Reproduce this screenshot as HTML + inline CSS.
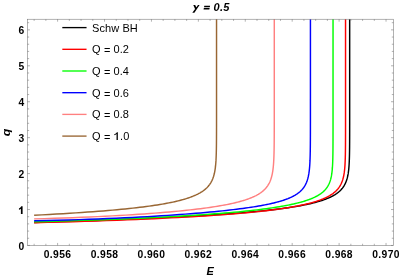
<!DOCTYPE html>
<html><head><meta charset="utf-8"><title>plot</title>
<style>html,body{margin:0;padding:0;background:#fff;}body{width:400px;height:278px;overflow:hidden;position:relative;font-family:"Liberation Sans",sans-serif;}</style>
</head><body>
<svg width="400" height="278" viewBox="0 0 400 278" style="position:absolute;left:0;top:0;will-change:transform">
<g fill="none" stroke-width="1.45" stroke-linejoin="round">
<path d="M34.14 222.44 L47.78 222.03 L60.84 221.63 L73.33 221.23 L85.28 220.82 L96.71 220.42 L107.65 220.02 L118.11 219.62 L128.13 219.22 L137.70 218.82 L146.87 218.42 L155.64 218.02 L164.03 217.63 L172.06 217.23 L179.74 216.83 L187.09 216.43 L194.12 216.04 L200.84 215.64 L207.28 215.24 L213.43 214.84 L219.33 214.45 L224.96 214.05 L230.35 213.65 L235.51 213.26 L240.45 212.86 L245.17 212.46 L249.69 212.07 L254.01 211.67 L258.15 211.27 L262.11 210.87 L265.90 210.47 L269.52 210.08 L272.98 209.68 L276.30 209.28 L279.47 208.88 L282.51 208.48 L285.41 208.08 L288.19 207.68 L290.85 207.28 L293.39 206.89 L295.83 206.49 L298.15 206.09 L300.38 205.68 L302.51 205.28 L304.55 204.88 L306.50 204.48 L308.37 204.08 L310.16 203.68 L311.87 203.28 L313.50 202.88 L315.06 202.47 L316.56 202.07 L317.99 201.67 L319.36 201.27 L320.67 200.86 L321.93 200.46 L323.13 200.06 L324.27 199.65 L325.37 199.25 L326.42 198.85 L327.43 198.44 L328.39 198.04 L329.31 197.63 L330.19 197.23 L331.03 196.82 L331.84 196.42 L332.61 196.01 L333.35 195.61 L334.06 195.20 L334.73 194.80 L335.38 194.39 L335.99 193.98 L336.59 193.58 L337.15 193.17 L337.69 192.77 L338.21 192.36 L338.71 191.95 L339.18 191.55 L339.64 191.14 L340.07 190.73 L340.48 190.32 L340.88 189.92 L341.26 189.51 L341.63 189.10 L341.97 188.69 L342.31 188.29 L342.63 187.88 L342.93 187.47 L343.22 187.06 L343.50 186.65 L343.77 186.25 L344.02 185.84 L344.27 185.43 L344.50 185.02 L344.72 184.61 L344.94 184.20 L345.14 183.79 L345.34 183.39 L345.53 182.98 L345.71 182.57 L345.88 182.16 L346.04 181.75 L346.20 181.34 L346.35 180.93 L346.49 180.52 L346.63 180.11 L346.76 179.70 L346.89 179.29 L347.01 178.89 L347.12 178.48 L347.23 178.07 L347.34 177.66 L347.44 177.25 L347.54 176.84 L347.63 176.43 L347.72 176.02 L347.80 175.61 L347.88 175.20 L347.96 174.79 L348.03 174.38 L348.11 173.97 L348.17 173.56 L348.24 173.15 L348.30 172.74 L348.36 172.33 L348.42 171.92 L348.47 171.51 L348.52 171.10 L348.57 170.69 L348.62 170.28 L348.67 169.87 L348.71 169.46 L348.75 169.05 L348.79 168.64 L348.83 168.23 L348.87 167.82 L348.90 167.41 L348.93 166.99 L348.97 166.58 L349.00 166.17 L349.03 165.76 L349.05 165.35 L349.08 164.94 L349.11 164.53 L349.13 164.12 L349.15 163.71 L349.18 163.30 L349.20 162.89 L349.22 162.48 L349.24 162.07 L349.26 161.66 L349.28 161.25 L349.29 160.84 L349.31 160.43 L349.32 160.02 L349.34 159.61 L349.35 159.19 L349.37 158.78 L349.38 158.37 L349.39 157.96 L349.41 157.55 L349.42 157.14 L349.43 156.73 L349.44 156.32 L349.45 155.91 L349.46 155.50 L349.47 155.09 L349.48 154.68 L349.49 154.27 L349.49 153.86 L349.50 153.44 L349.51 153.03 L349.52 152.62 L349.52 152.21 L349.53 151.80 L349.54 151.39 L349.54 150.98 L349.55 150.57 L349.55 150.16 L349.56 149.75 L349.56 149.34 L349.57 148.93 L349.57 148.52 L349.58 148.10 L349.58 147.69 L349.59 147.28 L349.59 146.87 L349.59 146.46 L349.60 146.05 L349.60 145.64 L349.60 145.23 L349.61 144.82 L349.61 144.41 L349.61 144.00 L349.61 143.59 L349.62 143.17 L349.62 142.76 L349.62 142.35 L349.62 141.94 L349.63 141.53 L349.63 141.12 L349.63 140.71 L349.63 140.30 L349.63 139.89 L349.64 139.48 L349.64 139.07 L349.64 138.66 L349.64 138.24 L349.64 137.83 L349.64 137.42 L349.64 137.01 L349.65 136.60 L349.65 136.19 L349.65 135.78 L349.65 135.37 L349.65 134.96 L349.65 134.55 L349.65 134.14 L349.65 133.72 L349.65 133.31 L349.65 132.90 L349.66 132.49 L349.66 132.08 L349.66 131.67 L349.66 131.26 L349.66 130.85 L349.66 130.44 L349.66 130.03 L349.66 129.62 L349.66 129.21 L349.66 128.79 L349.66 128.38 L349.66 127.97 L349.66 127.56 L349.66 127.15 L349.66 126.74 L349.66 126.33 L349.66 125.92 L349.67 125.51 L349.67 125.10 L349.67 124.69 L349.67 124.27 L349.67 123.86 L349.67 123.45 L349.67 123.04 L349.67 122.63 L349.67 122.22 L349.67 121.81 L349.67 121.40 L349.67 120.99 L349.67 120.58 L349.67 120.17 L349.67 119.75 L349.67 119.34 L349.67 118.93 L349.67 118.52 L349.67 118.11 L349.67 117.70 L349.67 117.29 L349.67 116.88 L349.67 116.47 L349.67 116.06 L349.67 115.65 L349.67 115.24 L349.67 114.82 L349.67 114.41 L349.67 114.00 L349.67 113.59 L349.67 113.18 L349.67 112.77 L349.67 112.36 L349.67 111.95 L349.67 111.54 L349.67 111.13 L349.67 110.72 L349.67 110.30 L349.67 109.89 L349.67 109.48 L349.67 109.07 L349.67 108.66 L349.67 108.25 L349.67 107.84 L349.67 107.43 L349.67 107.02 L349.67 106.61 L349.67 106.20 L349.67 105.78 L349.67 105.37 L349.67 104.96 L349.67 104.55 L349.67 104.14 L349.67 103.73 L349.67 103.32 L349.67 102.91 L349.67 102.50 L349.67 102.09 L349.67 101.68 L349.67 101.26 L349.67 100.85 L349.67 100.44 L349.67 100.03 L349.67 99.62 L349.67 99.21 L349.67 98.80 L349.67 98.39 L349.67 97.98 L349.67 97.57 L349.67 97.16 L349.67 96.74 L349.67 96.33 L349.67 95.92 L349.67 95.51 L349.67 95.10 L349.67 94.69 L349.67 94.28 L349.67 93.87 L349.67 93.46 L349.67 93.05 L349.67 92.64 L349.67 92.23 L349.67 91.81 L349.67 91.40 L349.67 90.99 L349.67 90.58 L349.67 90.17 L349.67 89.76 L349.67 89.35 L349.67 88.94 L349.67 88.53 L349.67 88.12 L349.67 87.71 L349.67 87.29 L349.67 86.88 L349.67 86.47 L349.67 86.06 L349.67 85.65 L349.67 85.24 L349.67 84.83 L349.67 84.42 L349.67 84.01 L349.67 83.60 L349.67 83.19 L349.67 82.77 L349.67 82.36 L349.67 81.95 L349.67 81.54 L349.67 81.13 L349.67 80.72 L349.67 80.31 L349.67 79.90 L349.67 79.49 L349.67 79.08 L349.67 78.67 L349.67 78.25 L349.67 77.84 L349.67 77.43 L349.67 77.02 L349.67 76.61 L349.67 76.20 L349.67 75.79 L349.67 75.38 L349.67 74.97 L349.67 74.56 L349.67 74.15 L349.67 73.73 L349.67 73.32 L349.67 72.91 L349.67 72.50 L349.67 72.09 L349.67 71.68 L349.67 71.27 L349.67 70.86 L349.67 70.45 L349.67 70.04 L349.67 69.63 L349.67 69.22 L349.67 68.80 L349.67 68.39 L349.67 67.98 L349.67 67.57 L349.67 67.16 L349.67 66.75 L349.67 66.34 L349.67 65.93 L349.67 65.52 L349.67 65.11 L349.67 64.70 L349.67 64.28 L349.67 63.87 L349.67 63.46 L349.67 63.05 L349.67 62.64 L349.67 62.23 L349.67 61.82 L349.67 61.41 L349.67 61.00 L349.67 60.59 L349.67 60.18 L349.67 59.76 L349.67 59.35 L349.67 58.94 L349.67 58.53 L349.67 58.12 L349.67 57.71 L349.67 57.30 L349.67 56.89 L349.67 56.48 L349.67 56.07 L349.67 55.66 L349.67 55.24 L349.67 54.83 L349.67 54.42 L349.67 54.01 L349.67 53.60 L349.67 53.19 L349.67 52.78 L349.67 52.37 L349.67 51.96 L349.67 51.55 L349.67 51.14 L349.67 50.72 L349.67 50.31 L349.67 49.90 L349.67 49.49 L349.67 49.08 L349.67 48.67 L349.67 48.26 L349.67 47.85 L349.67 47.44 L349.67 47.03 L349.67 46.62 L349.67 46.20 L349.67 45.79 L349.67 45.38 L349.67 44.97 L349.67 44.56 L349.67 44.15 L349.67 43.74 L349.67 43.33 L349.67 42.92 L349.67 42.51 L349.67 42.10 L349.67 41.69 L349.67 41.27 L349.67 40.86 L349.67 40.45 L349.67 40.04 L349.67 39.63 L349.67 39.22 L349.67 38.81 L349.67 38.40 L349.67 37.99 L349.67 37.58 L349.67 37.17 L349.67 36.75 L349.67 36.34 L349.67 35.93 L349.67 35.52 L349.67 35.11 L349.67 34.70 L349.67 34.29 L349.67 33.88 L349.67 33.47 L349.67 33.06 L349.67 32.65 L349.67 32.23 L349.67 31.82 L349.67 31.41 L349.67 31.00 L349.67 30.59 L349.67 30.18 L349.67 29.77 L349.67 29.36 L349.67 28.95 L349.67 28.54 L349.67 28.13 L349.67 27.71 L349.67 27.30 L349.67 26.89 L349.67 26.48 L349.67 26.07 L349.67 25.66 L349.67 25.25 L349.67 24.84 L349.67 24.43 L349.67 24.02 L349.67 23.61 L349.67 23.19 L349.67 22.78 L349.67 22.37 L349.67 21.96 L349.67 21.55 L349.67 21.14 L349.67 20.73 L349.67 20.32 L349.67 19.91 L349.67 19.50 L349.67 19.20" stroke="#000000"/>
<path d="M34.14 222.72 L47.60 222.37 L60.48 222.02 L72.80 221.66 L84.58 221.29 L95.86 220.93 L106.65 220.56 L116.98 220.19 L126.86 219.81 L136.31 219.43 L145.35 219.05 L154.00 218.67 L162.28 218.28 L170.20 217.90 L177.78 217.51 L185.03 217.11 L191.97 216.72 L198.61 216.33 L204.96 215.93 L211.03 215.53 L216.85 215.13 L222.41 214.73 L227.73 214.33 L232.82 213.92 L237.69 213.52 L242.35 213.11 L246.81 212.71 L251.08 212.30 L255.16 211.89 L259.07 211.48 L262.81 211.08 L266.38 210.67 L269.80 210.26 L273.08 209.84 L276.21 209.43 L279.21 209.02 L282.07 208.61 L284.82 208.20 L287.44 207.79 L289.95 207.37 L292.35 206.96 L294.65 206.55 L296.85 206.13 L298.96 205.72 L300.97 205.31 L302.90 204.89 L304.74 204.48 L306.50 204.07 L308.19 203.65 L309.81 203.24 L311.35 202.83 L312.83 202.41 L314.24 202.00 L315.59 201.59 L316.89 201.17 L318.13 200.76 L319.31 200.35 L320.45 199.94 L321.53 199.52 L322.57 199.11 L323.56 198.70 L324.51 198.29 L325.42 197.87 L326.29 197.46 L327.12 197.05 L327.92 196.64 L328.68 196.23 L329.41 195.82 L330.11 195.40 L330.77 194.99 L331.41 194.58 L332.02 194.17 L332.61 193.76 L333.17 193.35 L333.70 192.94 L334.21 192.53 L334.70 192.12 L335.17 191.71 L335.62 191.30 L336.05 190.89 L336.46 190.48 L336.85 190.07 L337.23 189.66 L337.59 189.26 L337.93 188.85 L338.26 188.44 L338.57 188.03 L338.88 187.62 L339.16 187.21 L339.44 186.81 L339.70 186.40 L339.96 185.99 L340.20 185.58 L340.43 185.17 L340.65 184.77 L340.86 184.36 L341.06 183.95 L341.26 183.54 L341.44 183.14 L341.62 182.73 L341.79 182.32 L341.95 181.92 L342.11 181.51 L342.26 181.10 L342.40 180.70 L342.53 180.29 L342.66 179.89 L342.79 179.48 L342.91 179.07 L343.02 178.67 L343.13 178.26 L343.23 177.86 L343.33 177.45 L343.43 177.04 L343.52 176.64 L343.61 176.23 L343.69 175.83 L343.77 175.42 L343.85 175.02 L343.92 174.61 L343.99 174.21 L344.06 173.80 L344.12 173.40 L344.18 172.99 L344.24 172.58 L344.30 172.18 L344.35 171.77 L344.40 171.37 L344.45 170.97 L344.50 170.56 L344.55 170.16 L344.59 169.75 L344.63 169.35 L344.67 168.94 L344.71 168.54 L344.74 168.13 L344.78 167.73 L344.81 167.32 L344.84 166.92 L344.87 166.51 L344.90 166.11 L344.93 165.71 L344.96 165.30 L344.98 164.90 L345.01 164.49 L345.03 164.09 L345.05 163.68 L345.07 163.28 L345.09 162.88 L345.11 162.47 L345.13 162.07 L345.15 161.66 L345.17 161.26 L345.18 160.86 L345.20 160.45 L345.21 160.05 L345.23 159.64 L345.24 159.24 L345.25 158.83 L345.27 158.43 L345.28 158.03 L345.29 157.62 L345.30 157.22 L345.31 156.82 L345.32 156.41 L345.33 156.01 L345.34 155.60 L345.35 155.20 L345.36 154.80 L345.37 154.39 L345.37 153.99 L345.38 153.58 L345.39 153.18 L345.39 152.78 L345.40 152.37 L345.41 151.97 L345.41 151.57 L345.42 151.16 L345.42 150.76 L345.43 150.35 L345.43 149.95 L345.44 149.55 L345.44 149.14 L345.45 148.74 L345.45 148.34 L345.46 147.93 L345.46 147.53 L345.46 147.12 L345.47 146.72 L345.47 146.32 L345.47 145.91 L345.48 145.51 L345.48 145.11 L345.48 144.70 L345.48 144.30 L345.49 143.90 L345.49 143.49 L345.49 143.09 L345.49 142.68 L345.50 142.28 L345.50 141.88 L345.50 141.47 L345.50 141.07 L345.50 140.67 L345.51 140.26 L345.51 139.86 L345.51 139.46 L345.51 139.05 L345.51 138.65 L345.51 138.24 L345.51 137.84 L345.52 137.44 L345.52 137.03 L345.52 136.63 L345.52 136.23 L345.52 135.82 L345.52 135.42 L345.52 135.02 L345.52 134.61 L345.52 134.21 L345.53 133.80 L345.53 133.40 L345.53 133.00 L345.53 132.59 L345.53 132.19 L345.53 131.79 L345.53 131.38 L345.53 130.98 L345.53 130.58 L345.53 130.17 L345.53 129.77 L345.53 129.37 L345.53 128.96 L345.53 128.56 L345.53 128.15 L345.53 127.75 L345.53 127.35 L345.54 126.94 L345.54 126.54 L345.54 126.14 L345.54 125.73 L345.54 125.33 L345.54 124.93 L345.54 124.52 L345.54 124.12 L345.54 123.72 L345.54 123.31 L345.54 122.91 L345.54 122.51 L345.54 122.10 L345.54 121.70 L345.54 121.29 L345.54 120.89 L345.54 120.49 L345.54 120.08 L345.54 119.68 L345.54 119.28 L345.54 118.87 L345.54 118.47 L345.54 118.07 L345.54 117.66 L345.54 117.26 L345.54 116.86 L345.54 116.45 L345.54 116.05 L345.54 115.64 L345.54 115.24 L345.54 114.84 L345.54 114.43 L345.54 114.03 L345.54 113.63 L345.54 113.22 L345.54 112.82 L345.54 112.42 L345.54 112.01 L345.54 111.61 L345.54 111.21 L345.54 110.80 L345.54 110.40 L345.54 110.00 L345.54 109.59 L345.54 109.19 L345.54 108.78 L345.54 108.38 L345.54 107.98 L345.54 107.57 L345.54 107.17 L345.54 106.77 L345.54 106.36 L345.54 105.96 L345.54 105.56 L345.54 105.15 L345.54 104.75 L345.54 104.35 L345.54 103.94 L345.54 103.54 L345.54 103.14 L345.54 102.73 L345.54 102.33 L345.54 101.92 L345.54 101.52 L345.54 101.12 L345.54 100.71 L345.54 100.31 L345.54 99.91 L345.54 99.50 L345.54 99.10 L345.54 98.70 L345.54 98.29 L345.54 97.89 L345.54 97.49 L345.54 97.08 L345.54 96.68 L345.54 96.28 L345.54 95.87 L345.54 95.47 L345.54 95.06 L345.54 94.66 L345.54 94.26 L345.54 93.85 L345.54 93.45 L345.54 93.05 L345.54 92.64 L345.54 92.24 L345.54 91.84 L345.54 91.43 L345.54 91.03 L345.54 90.63 L345.54 90.22 L345.54 89.82 L345.54 89.41 L345.54 89.01 L345.54 88.61 L345.54 88.20 L345.54 87.80 L345.54 87.40 L345.54 86.99 L345.54 86.59 L345.54 86.19 L345.54 85.78 L345.54 85.38 L345.54 84.98 L345.54 84.57 L345.54 84.17 L345.54 83.77 L345.54 83.36 L345.54 82.96 L345.54 82.55 L345.54 82.15 L345.54 81.75 L345.54 81.34 L345.54 80.94 L345.54 80.54 L345.54 80.13 L345.54 79.73 L345.54 79.33 L345.54 78.92 L345.54 78.52 L345.54 78.12 L345.54 77.71 L345.54 77.31 L345.54 76.91 L345.54 76.50 L345.54 76.10 L345.54 75.69 L345.54 75.29 L345.54 74.89 L345.54 74.48 L345.54 74.08 L345.54 73.68 L345.54 73.27 L345.54 72.87 L345.54 72.47 L345.54 72.06 L345.54 71.66 L345.54 71.26 L345.54 70.85 L345.54 70.45 L345.54 70.05 L345.54 69.64 L345.54 69.24 L345.54 68.83 L345.54 68.43 L345.54 68.03 L345.54 67.62 L345.54 67.22 L345.54 66.82 L345.54 66.41 L345.54 66.01 L345.54 65.61 L345.54 65.20 L345.54 64.80 L345.54 64.40 L345.54 63.99 L345.54 63.59 L345.54 63.19 L345.54 62.78 L345.54 62.38 L345.54 61.97 L345.54 61.57 L345.54 61.17 L345.54 60.76 L345.54 60.36 L345.54 59.96 L345.54 59.55 L345.54 59.15 L345.54 58.75 L345.54 58.34 L345.54 57.94 L345.54 57.54 L345.54 57.13 L345.54 56.73 L345.54 56.33 L345.54 55.92 L345.54 55.52 L345.54 55.11 L345.54 54.71 L345.54 54.31 L345.54 53.90 L345.54 53.50 L345.54 53.10 L345.54 52.69 L345.54 52.29 L345.54 51.89 L345.54 51.48 L345.54 51.08 L345.54 50.68 L345.54 50.27 L345.54 49.87 L345.54 49.46 L345.54 49.06 L345.54 48.66 L345.54 48.25 L345.54 47.85 L345.54 47.45 L345.54 47.04 L345.54 46.64 L345.54 46.24 L345.54 45.83 L345.54 45.43 L345.54 45.03 L345.54 44.62 L345.54 44.22 L345.54 43.82 L345.54 43.41 L345.54 43.01 L345.54 42.60 L345.54 42.20 L345.54 41.80 L345.54 41.39 L345.54 40.99 L345.54 40.59 L345.54 40.18 L345.54 39.78 L345.54 39.38 L345.54 38.97 L345.54 38.57 L345.54 38.17 L345.54 37.76 L345.54 37.36 L345.54 36.96 L345.54 36.55 L345.54 36.15 L345.54 35.74 L345.54 35.34 L345.54 34.94 L345.54 34.53 L345.54 34.13 L345.54 33.73 L345.54 33.32 L345.54 32.92 L345.54 32.52 L345.54 32.11 L345.54 31.71 L345.54 31.31 L345.54 30.90 L345.54 30.50 L345.54 30.10 L345.54 29.69 L345.54 29.29 L345.54 28.88 L345.54 28.48 L345.54 28.08 L345.54 27.67 L345.54 27.27 L345.54 26.87 L345.54 26.46 L345.54 26.06 L345.54 25.66 L345.54 25.25 L345.54 24.85 L345.54 24.45 L345.54 24.04 L345.54 23.64 L345.54 23.24 L345.54 22.83 L345.54 22.43 L345.54 22.02 L345.54 21.62 L345.54 21.22 L345.54 20.81 L345.54 20.41 L345.54 20.01 L345.54 19.60 L345.54 19.20" stroke="#ff0000"/>
<path d="M34.14 221.76 L47.04 221.43 L59.38 221.10 L71.19 220.75 L82.49 220.40 L93.30 220.04 L103.65 219.67 L113.55 219.30 L123.02 218.93 L132.08 218.55 L140.75 218.17 L149.05 217.78 L156.99 217.39 L164.59 217.00 L171.86 216.61 L178.81 216.22 L185.47 215.82 L191.83 215.43 L197.93 215.03 L203.76 214.63 L209.34 214.24 L214.67 213.84 L219.78 213.44 L224.67 213.04 L229.35 212.64 L233.82 212.24 L238.10 211.85 L242.20 211.45 L246.12 211.05 L249.87 210.65 L253.46 210.25 L256.89 209.85 L260.18 209.46 L263.32 209.06 L266.33 208.66 L269.21 208.27 L271.96 207.87 L274.60 207.48 L277.12 207.08 L279.53 206.69 L281.84 206.29 L284.05 205.90 L286.17 205.50 L288.19 205.11 L290.12 204.72 L291.98 204.32 L293.75 203.93 L295.44 203.54 L297.06 203.15 L298.62 202.76 L300.10 202.36 L301.52 201.97 L302.88 201.58 L304.18 201.19 L305.43 200.80 L306.62 200.41 L307.76 200.02 L308.85 199.63 L309.89 199.24 L310.89 198.85 L311.85 198.46 L312.76 198.08 L313.64 197.69 L314.48 197.30 L315.28 196.91 L316.04 196.52 L316.78 196.13 L317.48 195.75 L318.15 195.36 L318.79 194.97 L319.41 194.58 L319.99 194.20 L320.56 193.81 L321.10 193.42 L321.61 193.03 L322.10 192.65 L322.58 192.26 L323.03 191.87 L323.46 191.49 L323.87 191.10 L324.27 190.71 L324.65 190.33 L325.01 189.94 L325.35 189.55 L325.69 189.17 L326.00 188.78 L326.31 188.39 L326.60 188.01 L326.87 187.62 L327.14 187.23 L327.39 186.85 L327.64 186.46 L327.87 186.07 L328.09 185.69 L328.31 185.30 L328.51 184.92 L328.71 184.53 L328.89 184.14 L329.07 183.76 L329.24 183.37 L329.41 182.98 L329.56 182.60 L329.71 182.21 L329.86 181.83 L329.99 181.44 L330.12 181.05 L330.25 180.67 L330.37 180.28 L330.49 179.90 L330.60 179.51 L330.70 179.12 L330.80 178.74 L330.90 178.35 L330.99 177.96 L331.08 177.58 L331.16 177.19 L331.24 176.81 L331.32 176.42 L331.39 176.03 L331.47 175.65 L331.53 175.26 L331.60 174.87 L331.66 174.49 L331.72 174.10 L331.78 173.72 L331.83 173.33 L331.88 172.94 L331.93 172.56 L331.98 172.17 L332.03 171.78 L332.07 171.40 L332.11 171.01 L332.15 170.63 L332.19 170.24 L332.23 169.85 L332.26 169.47 L332.29 169.08 L332.33 168.69 L332.36 168.31 L332.39 167.92 L332.41 167.54 L332.44 167.15 L332.47 166.76 L332.49 166.38 L332.51 165.99 L332.54 165.60 L332.56 165.22 L332.58 164.83 L332.60 164.45 L332.62 164.06 L332.64 163.67 L332.65 163.29 L332.67 162.90 L332.68 162.51 L332.70 162.13 L332.71 161.74 L332.73 161.36 L332.74 160.97 L332.75 160.58 L332.77 160.20 L332.78 159.81 L332.79 159.42 L332.80 159.04 L332.81 158.65 L332.82 158.26 L332.83 157.88 L332.84 157.49 L332.85 157.11 L332.85 156.72 L332.86 156.33 L332.87 155.95 L332.88 155.56 L332.88 155.17 L332.89 154.79 L332.90 154.40 L332.90 154.01 L332.91 153.63 L332.91 153.24 L332.92 152.85 L332.92 152.47 L332.93 152.08 L332.93 151.70 L332.94 151.31 L332.94 150.92 L332.95 150.54 L332.95 150.15 L332.95 149.76 L332.96 149.38 L332.96 148.99 L332.96 148.60 L332.97 148.22 L332.97 147.83 L332.97 147.45 L332.98 147.06 L332.98 146.67 L332.98 146.29 L332.98 145.90 L332.98 145.51 L332.99 145.13 L332.99 144.74 L332.99 144.35 L332.99 143.97 L332.99 143.58 L333.00 143.19 L333.00 142.81 L333.00 142.42 L333.00 142.04 L333.00 141.65 L333.00 141.26 L333.01 140.88 L333.01 140.49 L333.01 140.10 L333.01 139.72 L333.01 139.33 L333.01 138.94 L333.01 138.56 L333.01 138.17 L333.01 137.78 L333.02 137.40 L333.02 137.01 L333.02 136.62 L333.02 136.24 L333.02 135.85 L333.02 135.47 L333.02 135.08 L333.02 134.69 L333.02 134.31 L333.02 133.92 L333.02 133.53 L333.02 133.15 L333.02 132.76 L333.02 132.37 L333.02 131.99 L333.02 131.60 L333.03 131.21 L333.03 130.83 L333.03 130.44 L333.03 130.06 L333.03 129.67 L333.03 129.28 L333.03 128.90 L333.03 128.51 L333.03 128.12 L333.03 127.74 L333.03 127.35 L333.03 126.96 L333.03 126.58 L333.03 126.19 L333.03 125.80 L333.03 125.42 L333.03 125.03 L333.03 124.65 L333.03 124.26 L333.03 123.87 L333.03 123.49 L333.03 123.10 L333.03 122.71 L333.03 122.33 L333.03 121.94 L333.03 121.55 L333.03 121.17 L333.03 120.78 L333.03 120.39 L333.03 120.01 L333.03 119.62 L333.03 119.23 L333.03 118.85 L333.03 118.46 L333.03 118.08 L333.03 117.69 L333.03 117.30 L333.03 116.92 L333.03 116.53 L333.03 116.14 L333.03 115.76 L333.03 115.37 L333.03 114.98 L333.03 114.60 L333.03 114.21 L333.03 113.82 L333.03 113.44 L333.03 113.05 L333.03 112.66 L333.03 112.28 L333.03 111.89 L333.03 111.51 L333.03 111.12 L333.03 110.73 L333.03 110.35 L333.03 109.96 L333.03 109.57 L333.03 109.19 L333.03 108.80 L333.03 108.41 L333.03 108.03 L333.03 107.64 L333.03 107.25 L333.03 106.87 L333.03 106.48 L333.03 106.10 L333.03 105.71 L333.03 105.32 L333.03 104.94 L333.03 104.55 L333.03 104.16 L333.03 103.78 L333.03 103.39 L333.03 103.00 L333.03 102.62 L333.03 102.23 L333.03 101.84 L333.03 101.46 L333.03 101.07 L333.03 100.68 L333.03 100.30 L333.03 99.91 L333.03 99.53 L333.03 99.14 L333.03 98.75 L333.03 98.37 L333.03 97.98 L333.03 97.59 L333.03 97.21 L333.03 96.82 L333.03 96.43 L333.03 96.05 L333.03 95.66 L333.03 95.27 L333.03 94.89 L333.03 94.50 L333.03 94.12 L333.03 93.73 L333.03 93.34 L333.03 92.96 L333.03 92.57 L333.03 92.18 L333.03 91.80 L333.03 91.41 L333.03 91.02 L333.03 90.64 L333.03 90.25 L333.03 89.86 L333.03 89.48 L333.03 89.09 L333.03 88.70 L333.03 88.32 L333.03 87.93 L333.03 87.55 L333.03 87.16 L333.03 86.77 L333.03 86.39 L333.03 86.00 L333.03 85.61 L333.03 85.23 L333.03 84.84 L333.03 84.45 L333.03 84.07 L333.03 83.68 L333.03 83.29 L333.03 82.91 L333.03 82.52 L333.03 82.13 L333.03 81.75 L333.03 81.36 L333.03 80.98 L333.03 80.59 L333.03 80.20 L333.03 79.82 L333.03 79.43 L333.03 79.04 L333.03 78.66 L333.03 78.27 L333.03 77.88 L333.03 77.50 L333.03 77.11 L333.03 76.72 L333.03 76.34 L333.03 75.95 L333.03 75.57 L333.03 75.18 L333.03 74.79 L333.03 74.41 L333.03 74.02 L333.03 73.63 L333.03 73.25 L333.03 72.86 L333.03 72.47 L333.03 72.09 L333.03 71.70 L333.03 71.31 L333.03 70.93 L333.03 70.54 L333.03 70.15 L333.03 69.77 L333.03 69.38 L333.03 69.00 L333.03 68.61 L333.03 68.22 L333.03 67.84 L333.03 67.45 L333.03 67.06 L333.03 66.68 L333.03 66.29 L333.03 65.90 L333.03 65.52 L333.03 65.13 L333.03 64.74 L333.03 64.36 L333.03 63.97 L333.03 63.58 L333.03 63.20 L333.03 62.81 L333.03 62.43 L333.03 62.04 L333.03 61.65 L333.03 61.27 L333.03 60.88 L333.03 60.49 L333.03 60.11 L333.04 59.72 L333.04 59.33 L333.04 58.95 L333.04 58.56 L333.04 58.17 L333.04 57.79 L333.04 57.40 L333.04 57.02 L333.04 56.63 L333.04 56.24 L333.04 55.86 L333.04 55.47 L333.04 55.08 L333.04 54.70 L333.04 54.31 L333.04 53.92 L333.04 53.54 L333.04 53.15 L333.04 52.76 L333.04 52.38 L333.04 51.99 L333.04 51.60 L333.04 51.22 L333.04 50.83 L333.04 50.45 L333.04 50.06 L333.04 49.67 L333.04 49.29 L333.04 48.90 L333.04 48.51 L333.04 48.13 L333.04 47.74 L333.04 47.35 L333.04 46.97 L333.04 46.58 L333.04 46.19 L333.04 45.81 L333.04 45.42 L333.04 45.03 L333.04 44.65 L333.04 44.26 L333.04 43.88 L333.04 43.49 L333.04 43.10 L333.04 42.72 L333.04 42.33 L333.04 41.94 L333.04 41.56 L333.04 41.17 L333.04 40.78 L333.04 40.40 L333.04 40.01 L333.04 39.62 L333.04 39.24 L333.04 38.85 L333.04 38.47 L333.04 38.08 L333.04 37.69 L333.04 37.31 L333.04 36.92 L333.04 36.53 L333.04 36.15 L333.04 35.76 L333.04 35.37 L333.04 34.99 L333.04 34.60 L333.04 34.21 L333.04 33.83 L333.04 33.44 L333.04 33.05 L333.04 32.67 L333.04 32.28 L333.04 31.90 L333.04 31.51 L333.04 31.12 L333.04 30.74 L333.04 30.35 L333.04 29.96 L333.04 29.58 L333.04 29.19 L333.04 28.80 L333.04 28.42 L333.04 28.03 L333.04 27.64 L333.04 27.26 L333.04 26.87 L333.04 26.49 L333.04 26.10 L333.04 25.71 L333.04 25.33 L333.04 24.94 L333.04 24.55 L333.04 24.17 L333.04 23.78 L333.04 23.39 L333.04 23.01 L333.04 22.62 L333.04 22.23 L333.04 21.85 L333.04 21.46 L333.04 21.07 L333.04 20.69 L333.04 20.30 L333.04 19.92 L333.04 19.53 L333.04 19.20" stroke="#00ff00"/>
<path d="M34.14 220.78 L46.03 220.54 L57.40 220.26 L68.29 219.96 L78.71 219.64 L88.68 219.30 L98.22 218.94 L107.35 218.58 L116.09 218.20 L124.45 217.82 L132.45 217.42 L140.11 217.02 L147.44 216.62 L154.45 216.21 L161.16 215.80 L167.59 215.39 L173.73 214.98 L179.61 214.56 L185.24 214.15 L190.63 213.73 L195.78 213.32 L200.72 212.91 L205.44 212.49 L209.95 212.08 L214.28 211.67 L218.41 211.26 L222.37 210.86 L226.16 210.45 L229.79 210.04 L233.26 209.64 L236.58 209.24 L239.76 208.84 L242.80 208.44 L245.71 208.04 L248.49 207.64 L251.16 207.24 L253.71 206.85 L256.15 206.45 L258.48 206.06 L260.72 205.67 L262.86 205.27 L264.90 204.88 L266.86 204.49 L268.74 204.10 L270.53 203.71 L272.25 203.32 L273.89 202.93 L275.46 202.54 L276.97 202.15 L278.41 201.75 L279.78 201.36 L281.10 200.97 L282.36 200.58 L283.57 200.19 L284.73 199.80 L285.83 199.41 L286.89 199.01 L287.90 198.62 L288.87 198.22 L289.80 197.83 L290.69 197.44 L291.54 197.04 L292.35 196.64 L293.13 196.25 L293.87 195.85 L294.58 195.45 L295.27 195.05 L295.92 194.65 L296.54 194.25 L297.14 193.85 L297.71 193.45 L298.26 193.04 L298.78 192.64 L299.28 192.23 L299.76 191.83 L300.22 191.42 L300.66 191.01 L301.08 190.61 L301.48 190.20 L301.87 189.79 L302.24 189.38 L302.59 188.97 L302.93 188.56 L303.25 188.14 L303.56 187.73 L303.85 187.32 L304.14 186.90 L304.41 186.49 L304.67 186.07 L304.91 185.65 L305.15 185.23 L305.38 184.82 L305.59 184.40 L305.80 183.98 L306.00 183.56 L306.19 183.14 L306.37 182.71 L306.55 182.29 L306.71 181.87 L306.87 181.45 L307.03 181.02 L307.17 180.60 L307.31 180.17 L307.45 179.75 L307.58 179.32 L307.70 178.89 L307.82 178.47 L307.93 178.04 L308.04 177.61 L308.14 177.18 L308.24 176.75 L308.33 176.32 L308.42 175.89 L308.51 175.46 L308.59 175.03 L308.67 174.60 L308.74 174.17 L308.82 173.74 L308.89 173.31 L308.95 172.87 L309.02 172.44 L309.08 172.01 L309.13 171.57 L309.19 171.14 L309.24 170.71 L309.29 170.27 L309.34 169.84 L309.39 169.40 L309.43 168.96 L309.48 168.53 L309.52 168.09 L309.56 167.66 L309.59 167.22 L309.63 166.78 L309.66 166.35 L309.70 165.91 L309.73 165.47 L309.76 165.03 L309.79 164.60 L309.81 164.16 L309.84 163.72 L309.87 163.28 L309.89 162.84 L309.91 162.40 L309.94 161.97 L309.96 161.53 L309.98 161.09 L310.00 160.65 L310.01 160.21 L310.03 159.77 L310.05 159.33 L310.07 158.89 L310.08 158.45 L310.10 158.01 L310.11 157.57 L310.12 157.13 L310.14 156.69 L310.15 156.25 L310.16 155.81 L310.17 155.37 L310.18 154.92 L310.19 154.48 L310.20 154.04 L310.21 153.60 L310.22 153.16 L310.23 152.72 L310.24 152.28 L310.25 151.83 L310.26 151.39 L310.26 150.95 L310.27 150.51 L310.28 150.07 L310.28 149.63 L310.29 149.18 L310.29 148.74 L310.30 148.30 L310.31 147.86 L310.31 147.42 L310.32 146.97 L310.32 146.53 L310.33 146.09 L310.33 145.65 L310.33 145.20 L310.34 144.76 L310.34 144.32 L310.35 143.88 L310.35 143.43 L310.35 142.99 L310.36 142.55 L310.36 142.11 L310.36 141.66 L310.36 141.22 L310.37 140.78 L310.37 140.33 L310.37 139.89 L310.37 139.45 L310.38 139.00 L310.38 138.56 L310.38 138.12 L310.38 137.68 L310.38 137.23 L310.39 136.79 L310.39 136.35 L310.39 135.90 L310.39 135.46 L310.39 135.02 L310.39 134.57 L310.40 134.13 L310.40 133.69 L310.40 133.24 L310.40 132.80 L310.40 132.36 L310.40 131.91 L310.40 131.47 L310.40 131.03 L310.40 130.58 L310.41 130.14 L310.41 129.70 L310.41 129.25 L310.41 128.81 L310.41 128.37 L310.41 127.92 L310.41 127.48 L310.41 127.04 L310.41 126.59 L310.41 126.15 L310.41 125.71 L310.41 125.26 L310.41 124.82 L310.41 124.38 L310.41 123.93 L310.42 123.49 L310.42 123.05 L310.42 122.60 L310.42 122.16 L310.42 121.72 L310.42 121.27 L310.42 120.83 L310.42 120.39 L310.42 119.94 L310.42 119.50 L310.42 119.05 L310.42 118.61 L310.42 118.17 L310.42 117.72 L310.42 117.28 L310.42 116.84 L310.42 116.39 L310.42 115.95 L310.42 115.51 L310.42 115.06 L310.42 114.62 L310.42 114.18 L310.42 113.73 L310.42 113.29 L310.42 112.84 L310.42 112.40 L310.42 111.96 L310.42 111.51 L310.42 111.07 L310.42 110.63 L310.42 110.18 L310.42 109.74 L310.42 109.30 L310.42 108.85 L310.42 108.41 L310.42 107.96 L310.42 107.52 L310.42 107.08 L310.42 106.63 L310.42 106.19 L310.42 105.75 L310.42 105.30 L310.42 104.86 L310.42 104.42 L310.42 103.97 L310.42 103.53 L310.42 103.08 L310.42 102.64 L310.42 102.20 L310.42 101.75 L310.42 101.31 L310.42 100.87 L310.42 100.42 L310.42 99.98 L310.42 99.54 L310.42 99.09 L310.43 98.65 L310.43 98.20 L310.43 97.76 L310.43 97.32 L310.43 96.87 L310.43 96.43 L310.43 95.99 L310.43 95.54 L310.43 95.10 L310.43 94.66 L310.43 94.21 L310.43 93.77 L310.43 93.32 L310.43 92.88 L310.43 92.44 L310.43 91.99 L310.43 91.55 L310.43 91.11 L310.43 90.66 L310.43 90.22 L310.43 89.77 L310.43 89.33 L310.43 88.89 L310.43 88.44 L310.43 88.00 L310.43 87.56 L310.43 87.11 L310.43 86.67 L310.43 86.23 L310.43 85.78 L310.43 85.34 L310.43 84.89 L310.43 84.45 L310.43 84.01 L310.43 83.56 L310.43 83.12 L310.43 82.68 L310.43 82.23 L310.43 81.79 L310.43 81.35 L310.43 80.90 L310.43 80.46 L310.43 80.01 L310.43 79.57 L310.43 79.13 L310.43 78.68 L310.43 78.24 L310.43 77.80 L310.43 77.35 L310.43 76.91 L310.43 76.46 L310.43 76.02 L310.43 75.58 L310.43 75.13 L310.43 74.69 L310.43 74.25 L310.43 73.80 L310.43 73.36 L310.43 72.92 L310.43 72.47 L310.43 72.03 L310.43 71.58 L310.43 71.14 L310.43 70.70 L310.43 70.25 L310.43 69.81 L310.43 69.37 L310.43 68.92 L310.43 68.48 L310.43 68.04 L310.43 67.59 L310.43 67.15 L310.43 66.70 L310.43 66.26 L310.43 65.82 L310.43 65.37 L310.43 64.93 L310.43 64.49 L310.43 64.04 L310.43 63.60 L310.43 63.15 L310.43 62.71 L310.43 62.27 L310.43 61.82 L310.43 61.38 L310.43 60.94 L310.43 60.49 L310.43 60.05 L310.43 59.61 L310.43 59.16 L310.43 58.72 L310.43 58.27 L310.43 57.83 L310.43 57.39 L310.43 56.94 L310.43 56.50 L310.43 56.06 L310.43 55.61 L310.43 55.17 L310.43 54.72 L310.43 54.28 L310.43 53.84 L310.43 53.39 L310.43 52.95 L310.43 52.51 L310.43 52.06 L310.43 51.62 L310.43 51.18 L310.43 50.73 L310.43 50.29 L310.43 49.84 L310.43 49.40 L310.43 48.96 L310.43 48.51 L310.43 48.07 L310.43 47.63 L310.43 47.18 L310.43 46.74 L310.43 46.29 L310.43 45.85 L310.43 45.41 L310.43 44.96 L310.43 44.52 L310.43 44.08 L310.43 43.63 L310.43 43.19 L310.43 42.75 L310.43 42.30 L310.43 41.86 L310.43 41.41 L310.43 40.97 L310.43 40.53 L310.43 40.08 L310.43 39.64 L310.43 39.20 L310.43 38.75 L310.43 38.31 L310.43 37.87 L310.43 37.42 L310.43 36.98 L310.43 36.53 L310.43 36.09 L310.43 35.65 L310.43 35.20 L310.43 34.76 L310.43 34.32 L310.43 33.87 L310.43 33.43 L310.43 32.98 L310.43 32.54 L310.43 32.10 L310.43 31.65 L310.43 31.21 L310.43 30.77 L310.43 30.32 L310.43 29.88 L310.43 29.44 L310.43 28.99 L310.43 28.55 L310.43 28.10 L310.43 27.66 L310.43 27.22 L310.43 26.77 L310.43 26.33 L310.43 25.89 L310.43 25.44 L310.43 25.00 L310.43 24.55 L310.43 24.11 L310.43 23.67 L310.43 23.22 L310.43 22.78 L310.43 22.34 L310.43 21.89 L310.43 21.45 L310.43 21.01 L310.43 20.56 L310.43 20.12 L310.43 19.67 L310.43 19.23 L310.43 19.20" stroke="#0000ff"/>
<path d="M34.14 218.88 L44.42 218.60 L54.26 218.30 L63.68 217.99 L72.69 217.66 L81.32 217.32 L89.58 216.97 L97.49 216.61 L105.05 216.25 L112.30 215.87 L119.23 215.49 L125.87 215.11 L132.22 214.72 L138.30 214.33 L144.12 213.93 L149.70 213.54 L155.03 213.14 L160.13 212.74 L165.02 212.33 L169.70 211.93 L174.17 211.52 L178.46 211.12 L182.56 210.71 L186.49 210.31 L190.25 209.90 L193.84 209.49 L197.29 209.08 L200.58 208.68 L203.74 208.27 L206.76 207.86 L209.65 207.45 L212.41 207.04 L215.06 206.64 L217.60 206.23 L220.02 205.82 L222.35 205.41 L224.57 205.01 L226.70 204.60 L228.74 204.19 L230.69 203.78 L232.55 203.37 L234.34 202.96 L236.05 202.55 L237.69 202.14 L239.25 201.73 L240.75 201.32 L242.19 200.91 L243.56 200.50 L244.88 200.09 L246.14 199.68 L247.34 199.27 L248.49 198.86 L249.60 198.44 L250.65 198.03 L251.67 197.61 L252.63 197.20 L253.56 196.78 L254.45 196.37 L255.30 195.95 L256.11 195.54 L256.89 195.12 L257.63 194.70 L258.35 194.28 L259.03 193.86 L259.68 193.44 L260.31 193.02 L260.91 192.60 L261.48 192.18 L262.03 191.76 L262.55 191.33 L263.05 190.91 L263.53 190.49 L264.00 190.06 L264.44 189.64 L264.86 189.21 L265.26 188.78 L265.65 188.36 L266.02 187.93 L266.37 187.50 L266.71 187.07 L267.03 186.64 L267.35 186.21 L267.64 185.78 L267.93 185.35 L268.20 184.92 L268.46 184.49 L268.71 184.05 L268.95 183.62 L269.18 183.19 L269.40 182.75 L269.60 182.32 L269.81 181.88 L270.00 181.45 L270.18 181.01 L270.36 180.58 L270.52 180.14 L270.69 179.70 L270.84 179.27 L270.99 178.83 L271.13 178.39 L271.26 177.95 L271.39 177.51 L271.52 177.07 L271.64 176.63 L271.75 176.19 L271.86 175.75 L271.96 175.31 L272.06 174.87 L272.16 174.43 L272.25 173.99 L272.34 173.54 L272.42 173.10 L272.50 172.66 L272.58 172.22 L272.65 171.77 L272.72 171.33 L272.79 170.88 L272.85 170.44 L272.91 170.00 L272.97 169.55 L273.03 169.11 L273.08 168.66 L273.13 168.22 L273.18 167.77 L273.23 167.33 L273.28 166.88 L273.32 166.43 L273.36 165.99 L273.40 165.54 L273.44 165.10 L273.47 164.65 L273.51 164.20 L273.54 163.76 L273.57 163.31 L273.60 162.86 L273.63 162.41 L273.66 161.97 L273.69 161.52 L273.71 161.07 L273.74 160.62 L273.76 160.18 L273.79 159.73 L273.81 159.28 L273.83 158.83 L273.85 158.38 L273.87 157.93 L273.88 157.49 L273.90 157.04 L273.92 156.59 L273.93 156.14 L273.95 155.69 L273.96 155.24 L273.98 154.79 L273.99 154.34 L274.00 153.89 L274.02 153.44 L274.03 152.99 L274.04 152.54 L274.05 152.09 L274.06 151.65 L274.07 151.20 L274.08 150.75 L274.09 150.30 L274.10 149.85 L274.10 149.40 L274.11 148.95 L274.12 148.50 L274.13 148.05 L274.13 147.60 L274.14 147.15 L274.15 146.70 L274.15 146.24 L274.16 145.79 L274.16 145.34 L274.17 144.89 L274.17 144.44 L274.18 143.99 L274.18 143.54 L274.19 143.09 L274.19 142.64 L274.20 142.19 L274.20 141.74 L274.20 141.29 L274.21 140.84 L274.21 140.39 L274.21 139.94 L274.22 139.49 L274.22 139.04 L274.22 138.58 L274.23 138.13 L274.23 137.68 L274.23 137.23 L274.23 136.78 L274.24 136.33 L274.24 135.88 L274.24 135.43 L274.24 134.98 L274.24 134.53 L274.25 134.08 L274.25 133.62 L274.25 133.17 L274.25 132.72 L274.25 132.27 L274.25 131.82 L274.26 131.37 L274.26 130.92 L274.26 130.47 L274.26 130.02 L274.26 129.56 L274.26 129.11 L274.26 128.66 L274.26 128.21 L274.27 127.76 L274.27 127.31 L274.27 126.86 L274.27 126.41 L274.27 125.96 L274.27 125.50 L274.27 125.05 L274.27 124.60 L274.27 124.15 L274.27 123.70 L274.27 123.25 L274.27 122.80 L274.27 122.35 L274.28 121.89 L274.28 121.44 L274.28 120.99 L274.28 120.54 L274.28 120.09 L274.28 119.64 L274.28 119.19 L274.28 118.73 L274.28 118.28 L274.28 117.83 L274.28 117.38 L274.28 116.93 L274.28 116.48 L274.28 116.03 L274.28 115.58 L274.28 115.12 L274.28 114.67 L274.28 114.22 L274.28 113.77 L274.28 113.32 L274.28 112.87 L274.28 112.42 L274.28 111.96 L274.28 111.51 L274.28 111.06 L274.28 110.61 L274.28 110.16 L274.28 109.71 L274.28 109.26 L274.28 108.80 L274.28 108.35 L274.28 107.90 L274.28 107.45 L274.29 107.00 L274.29 106.55 L274.29 106.10 L274.29 105.65 L274.29 105.19 L274.29 104.74 L274.29 104.29 L274.29 103.84 L274.29 103.39 L274.29 102.94 L274.29 102.49 L274.29 102.03 L274.29 101.58 L274.29 101.13 L274.29 100.68 L274.29 100.23 L274.29 99.78 L274.29 99.33 L274.29 98.87 L274.29 98.42 L274.29 97.97 L274.29 97.52 L274.29 97.07 L274.29 96.62 L274.29 96.17 L274.29 95.71 L274.29 95.26 L274.29 94.81 L274.29 94.36 L274.29 93.91 L274.29 93.46 L274.29 93.01 L274.29 92.55 L274.29 92.10 L274.29 91.65 L274.29 91.20 L274.29 90.75 L274.29 90.30 L274.29 89.85 L274.29 89.39 L274.29 88.94 L274.29 88.49 L274.29 88.04 L274.29 87.59 L274.29 87.14 L274.29 86.69 L274.29 86.23 L274.29 85.78 L274.29 85.33 L274.29 84.88 L274.29 84.43 L274.29 83.98 L274.29 83.53 L274.29 83.07 L274.29 82.62 L274.29 82.17 L274.29 81.72 L274.29 81.27 L274.29 80.82 L274.29 80.37 L274.29 79.91 L274.29 79.46 L274.29 79.01 L274.29 78.56 L274.29 78.11 L274.29 77.66 L274.29 77.21 L274.29 76.75 L274.29 76.30 L274.29 75.85 L274.29 75.40 L274.29 74.95 L274.29 74.50 L274.29 74.05 L274.29 73.59 L274.29 73.14 L274.29 72.69 L274.29 72.24 L274.29 71.79 L274.29 71.34 L274.29 70.89 L274.29 70.43 L274.29 69.98 L274.29 69.53 L274.29 69.08 L274.29 68.63 L274.29 68.18 L274.29 67.73 L274.29 67.27 L274.29 66.82 L274.29 66.37 L274.29 65.92 L274.29 65.47 L274.29 65.02 L274.29 64.57 L274.29 64.11 L274.29 63.66 L274.29 63.21 L274.29 62.76 L274.29 62.31 L274.29 61.86 L274.29 61.41 L274.29 60.95 L274.29 60.50 L274.29 60.05 L274.29 59.60 L274.29 59.15 L274.29 58.70 L274.29 58.25 L274.29 57.79 L274.29 57.34 L274.29 56.89 L274.29 56.44 L274.29 55.99 L274.29 55.54 L274.29 55.09 L274.29 54.63 L274.29 54.18 L274.29 53.73 L274.29 53.28 L274.29 52.83 L274.29 52.38 L274.29 51.93 L274.29 51.47 L274.29 51.02 L274.29 50.57 L274.29 50.12 L274.29 49.67 L274.29 49.22 L274.29 48.77 L274.29 48.31 L274.29 47.86 L274.29 47.41 L274.29 46.96 L274.29 46.51 L274.29 46.06 L274.29 45.61 L274.29 45.15 L274.29 44.70 L274.29 44.25 L274.29 43.80 L274.29 43.35 L274.29 42.90 L274.29 42.45 L274.29 41.99 L274.29 41.54 L274.29 41.09 L274.29 40.64 L274.29 40.19 L274.29 39.74 L274.29 39.29 L274.29 38.83 L274.29 38.38 L274.29 37.93 L274.29 37.48 L274.29 37.03 L274.29 36.58 L274.29 36.13 L274.29 35.67 L274.29 35.22 L274.29 34.77 L274.29 34.32 L274.29 33.87 L274.29 33.42 L274.29 32.97 L274.29 32.51 L274.29 32.06 L274.29 31.61 L274.29 31.16 L274.29 30.71 L274.29 30.26 L274.29 29.81 L274.29 29.35 L274.29 28.90 L274.29 28.45 L274.29 28.00 L274.29 27.55 L274.29 27.10 L274.29 26.65 L274.29 26.19 L274.29 25.74 L274.29 25.29 L274.29 24.84 L274.29 24.39 L274.29 23.94 L274.29 23.49 L274.29 23.03 L274.29 22.58 L274.29 22.13 L274.29 21.68 L274.29 21.23 L274.29 20.78 L274.29 20.33 L274.29 19.87 L274.29 19.42 L274.29 19.20" stroke="#ff8080"/>
<path d="M34.14 215.25 L41.87 214.86 L49.27 214.46 L56.35 214.06 L63.14 213.67 L69.64 213.27 L75.86 212.88 L81.82 212.48 L87.53 212.09 L93.00 211.70 L98.23 211.30 L103.24 210.91 L108.04 210.51 L112.64 210.12 L117.04 209.72 L121.26 209.32 L125.29 208.93 L129.16 208.53 L132.86 208.13 L136.41 207.73 L139.80 207.33 L143.05 206.93 L146.17 206.53 L149.15 206.13 L152.00 205.73 L154.74 205.33 L157.35 204.92 L159.86 204.52 L162.26 204.12 L164.56 203.71 L166.77 203.31 L168.87 202.90 L170.89 202.50 L172.83 202.09 L174.68 201.68 L176.45 201.27 L178.15 200.87 L179.78 200.46 L181.34 200.05 L182.83 199.64 L184.26 199.23 L185.62 198.82 L186.93 198.41 L188.19 198.00 L189.39 197.59 L190.54 197.18 L191.64 196.76 L192.70 196.35 L193.71 195.94 L194.67 195.53 L195.60 195.12 L196.49 194.70 L197.34 194.29 L198.15 193.88 L198.93 193.46 L199.68 193.05 L200.39 192.64 L201.08 192.22 L201.73 191.81 L202.36 191.39 L202.96 190.98 L203.53 190.56 L204.09 190.15 L204.61 189.74 L205.12 189.32 L205.60 188.91 L206.07 188.49 L206.51 188.08 L206.94 187.66 L207.34 187.25 L207.73 186.83 L208.11 186.42 L208.46 186.00 L208.81 185.58 L209.13 185.17 L209.45 184.75 L209.75 184.34 L210.04 183.92 L210.31 183.51 L210.58 183.09 L210.83 182.68 L211.07 182.26 L211.30 181.84 L211.52 181.43 L211.74 181.01 L211.94 180.60 L212.14 180.18 L212.32 179.76 L212.50 179.35 L212.67 178.93 L212.84 178.52 L212.99 178.10 L213.14 177.69 L213.29 177.27 L213.43 176.85 L213.56 176.44 L213.68 176.02 L213.81 175.61 L213.92 175.19 L214.03 174.77 L214.14 174.36 L214.24 173.94 L214.34 173.53 L214.43 173.11 L214.52 172.70 L214.61 172.28 L214.69 171.86 L214.77 171.45 L214.84 171.03 L214.91 170.62 L214.98 170.20 L215.05 169.78 L215.11 169.37 L215.17 168.95 L215.23 168.54 L215.29 168.12 L215.34 167.70 L215.39 167.29 L215.44 166.87 L215.49 166.46 L215.53 166.04 L215.57 165.63 L215.62 165.21 L215.66 164.79 L215.69 164.38 L215.73 163.96 L215.76 163.55 L215.80 163.13 L215.83 162.72 L215.86 162.30 L215.89 161.88 L215.92 161.47 L215.94 161.05 L215.97 160.64 L215.99 160.22 L216.02 159.81 L216.04 159.39 L216.06 158.97 L216.08 158.56 L216.10 158.14 L216.12 157.73 L216.14 157.31 L216.15 156.90 L216.17 156.48 L216.19 156.06 L216.20 155.65 L216.22 155.23 L216.23 154.82 L216.24 154.40 L216.26 153.99 L216.27 153.57 L216.28 153.16 L216.29 152.74 L216.30 152.32 L216.31 151.91 L216.32 151.49 L216.33 151.08 L216.34 150.66 L216.35 150.25 L216.36 149.83 L216.36 149.42 L216.37 149.00 L216.38 148.58 L216.39 148.17 L216.39 147.75 L216.40 147.34 L216.41 146.92 L216.41 146.51 L216.42 146.09 L216.42 145.68 L216.43 145.26 L216.43 144.84 L216.44 144.43 L216.44 144.01 L216.45 143.60 L216.45 143.18 L216.45 142.77 L216.46 142.35 L216.46 141.94 L216.46 141.52 L216.47 141.10 L216.47 140.69 L216.47 140.27 L216.48 139.86 L216.48 139.44 L216.48 139.03 L216.49 138.61 L216.49 138.20 L216.49 137.78 L216.49 137.36 L216.49 136.95 L216.50 136.53 L216.50 136.12 L216.50 135.70 L216.50 135.29 L216.50 134.87 L216.51 134.46 L216.51 134.04 L216.51 133.63 L216.51 133.21 L216.51 132.79 L216.51 132.38 L216.51 131.96 L216.52 131.55 L216.52 131.13 L216.52 130.72 L216.52 130.30 L216.52 129.89 L216.52 129.47 L216.52 129.05 L216.52 128.64 L216.52 128.22 L216.52 127.81 L216.53 127.39 L216.53 126.98 L216.53 126.56 L216.53 126.15 L216.53 125.73 L216.53 125.32 L216.53 124.90 L216.53 124.48 L216.53 124.07 L216.53 123.65 L216.53 123.24 L216.53 122.82 L216.53 122.41 L216.53 121.99 L216.53 121.58 L216.53 121.16 L216.53 120.74 L216.53 120.33 L216.54 119.91 L216.54 119.50 L216.54 119.08 L216.54 118.67 L216.54 118.25 L216.54 117.84 L216.54 117.42 L216.54 117.01 L216.54 116.59 L216.54 116.17 L216.54 115.76 L216.54 115.34 L216.54 114.93 L216.54 114.51 L216.54 114.10 L216.54 113.68 L216.54 113.27 L216.54 112.85 L216.54 112.44 L216.54 112.02 L216.54 111.60 L216.54 111.19 L216.54 110.77 L216.54 110.36 L216.54 109.94 L216.54 109.53 L216.54 109.11 L216.54 108.70 L216.54 108.28 L216.54 107.87 L216.54 107.45 L216.54 107.03 L216.54 106.62 L216.54 106.20 L216.54 105.79 L216.54 105.37 L216.54 104.96 L216.54 104.54 L216.54 104.13 L216.54 103.71 L216.54 103.30 L216.54 102.88 L216.54 102.46 L216.54 102.05 L216.54 101.63 L216.54 101.22 L216.54 100.80 L216.54 100.39 L216.54 99.97 L216.54 99.56 L216.54 99.14 L216.54 98.72 L216.54 98.31 L216.54 97.89 L216.54 97.48 L216.54 97.06 L216.54 96.65 L216.54 96.23 L216.54 95.82 L216.54 95.40 L216.54 94.99 L216.54 94.57 L216.54 94.15 L216.54 93.74 L216.54 93.32 L216.54 92.91 L216.54 92.49 L216.54 92.08 L216.54 91.66 L216.54 91.25 L216.54 90.83 L216.54 90.42 L216.54 90.00 L216.54 89.58 L216.54 89.17 L216.54 88.75 L216.54 88.34 L216.54 87.92 L216.54 87.51 L216.54 87.09 L216.54 86.68 L216.54 86.26 L216.54 85.85 L216.54 85.43 L216.54 85.01 L216.54 84.60 L216.54 84.18 L216.54 83.77 L216.54 83.35 L216.54 82.94 L216.54 82.52 L216.54 82.11 L216.54 81.69 L216.54 81.28 L216.54 80.86 L216.54 80.44 L216.54 80.03 L216.54 79.61 L216.54 79.20 L216.54 78.78 L216.54 78.37 L216.54 77.95 L216.54 77.54 L216.54 77.12 L216.54 76.70 L216.54 76.29 L216.54 75.87 L216.54 75.46 L216.54 75.04 L216.54 74.63 L216.54 74.21 L216.54 73.80 L216.54 73.38 L216.54 72.97 L216.54 72.55 L216.54 72.13 L216.54 71.72 L216.54 71.30 L216.54 70.89 L216.54 70.47 L216.54 70.06 L216.54 69.64 L216.54 69.23 L216.54 68.81 L216.54 68.40 L216.54 67.98 L216.54 67.56 L216.54 67.15 L216.54 66.73 L216.54 66.32 L216.54 65.90 L216.54 65.49 L216.54 65.07 L216.54 64.66 L216.54 64.24 L216.54 63.83 L216.54 63.41 L216.54 62.99 L216.54 62.58 L216.54 62.16 L216.54 61.75 L216.54 61.33 L216.54 60.92 L216.54 60.50 L216.54 60.09 L216.54 59.67 L216.54 59.26 L216.54 58.84 L216.54 58.42 L216.54 58.01 L216.54 57.59 L216.54 57.18 L216.54 56.76 L216.54 56.35 L216.54 55.93 L216.54 55.52 L216.54 55.10 L216.54 54.69 L216.54 54.27 L216.54 53.85 L216.54 53.44 L216.54 53.02 L216.54 52.61 L216.54 52.19 L216.54 51.78 L216.54 51.36 L216.54 50.95 L216.54 50.53 L216.54 50.11 L216.54 49.70 L216.54 49.28 L216.54 48.87 L216.54 48.45 L216.54 48.04 L216.54 47.62 L216.54 47.21 L216.54 46.79 L216.54 46.38 L216.54 45.96 L216.54 45.54 L216.54 45.13 L216.54 44.71 L216.54 44.30 L216.54 43.88 L216.54 43.47 L216.54 43.05 L216.54 42.64 L216.54 42.22 L216.54 41.81 L216.54 41.39 L216.54 40.97 L216.54 40.56 L216.54 40.14 L216.54 39.73 L216.54 39.31 L216.54 38.90 L216.54 38.48 L216.54 38.07 L216.54 37.65 L216.54 37.24 L216.54 36.82 L216.54 36.40 L216.54 35.99 L216.54 35.57 L216.54 35.16 L216.54 34.74 L216.54 34.33 L216.54 33.91 L216.54 33.50 L216.54 33.08 L216.54 32.67 L216.54 32.25 L216.54 31.83 L216.54 31.42 L216.54 31.00 L216.54 30.59 L216.54 30.17 L216.54 29.76 L216.54 29.34 L216.54 28.93 L216.54 28.51 L216.54 28.09 L216.54 27.68 L216.54 27.26 L216.54 26.85 L216.54 26.43 L216.54 26.02 L216.54 25.60 L216.54 25.19 L216.54 24.77 L216.54 24.36 L216.54 23.94 L216.54 23.52 L216.54 23.11 L216.54 22.69 L216.54 22.28 L216.54 21.86 L216.54 21.45 L216.54 21.03 L216.54 20.62 L216.54 20.20 L216.54 19.79 L216.54 19.37 L216.54 19.20" stroke="#996633"/>
</g>
<g stroke="#666666" stroke-width="0.5" fill="none">
<rect x="27.45" y="19.2" width="366.05" height="226.25"/>
<path stroke-width="0.5" d="M34.14 245.45v-1.7M34.14 19.2v1.7M45.87 245.45v-1.7M45.87 19.2v1.7M57.60 245.45v-2.5M57.60 19.2v2.5M69.33 245.45v-1.7M69.33 19.2v1.7M81.06 245.45v-1.7M81.06 19.2v1.7M92.79 245.45v-1.7M92.79 19.2v1.7M104.52 245.45v-2.5M104.52 19.2v2.5M116.25 245.45v-1.7M116.25 19.2v1.7M127.98 245.45v-1.7M127.98 19.2v1.7M139.71 245.45v-1.7M139.71 19.2v1.7M151.44 245.45v-2.5M151.44 19.2v2.5M163.17 245.45v-1.7M163.17 19.2v1.7M174.90 245.45v-1.7M174.90 19.2v1.7M186.63 245.45v-1.7M186.63 19.2v1.7M198.36 245.45v-2.5M198.36 19.2v2.5M210.09 245.45v-1.7M210.09 19.2v1.7M221.82 245.45v-1.7M221.82 19.2v1.7M233.55 245.45v-1.7M233.55 19.2v1.7M245.28 245.45v-2.5M245.28 19.2v2.5M257.01 245.45v-1.7M257.01 19.2v1.7M268.74 245.45v-1.7M268.74 19.2v1.7M280.47 245.45v-1.7M280.47 19.2v1.7M292.20 245.45v-2.5M292.20 19.2v2.5M303.93 245.45v-1.7M303.93 19.2v1.7M315.66 245.45v-1.7M315.66 19.2v1.7M327.39 245.45v-1.7M327.39 19.2v1.7M339.12 245.45v-2.5M339.12 19.2v2.5M350.85 245.45v-1.7M350.85 19.2v1.7M362.58 245.45v-1.7M362.58 19.2v1.7M374.31 245.45v-1.7M374.31 19.2v1.7M386.04 245.45v-2.5M386.04 19.2v2.5M27.45 245.45h2.5M393.5 245.45h-2.5M27.45 238.26h1.7M393.5 238.26h-1.7M27.45 231.08h1.7M393.5 231.08h-1.7M27.45 223.89h1.7M393.5 223.89h-1.7M27.45 216.71h1.7M393.5 216.71h-1.7M27.45 209.52h2.5M393.5 209.52h-2.5M27.45 202.33h1.7M393.5 202.33h-1.7M27.45 195.15h1.7M393.5 195.15h-1.7M27.45 187.96h1.7M393.5 187.96h-1.7M27.45 180.78h1.7M393.5 180.78h-1.7M27.45 173.59h2.5M393.5 173.59h-2.5M27.45 166.40h1.7M393.5 166.40h-1.7M27.45 159.22h1.7M393.5 159.22h-1.7M27.45 152.03h1.7M393.5 152.03h-1.7M27.45 144.85h1.7M393.5 144.85h-1.7M27.45 137.66h2.5M393.5 137.66h-2.5M27.45 130.47h1.7M393.5 130.47h-1.7M27.45 123.29h1.7M393.5 123.29h-1.7M27.45 116.10h1.7M393.5 116.10h-1.7M27.45 108.92h1.7M393.5 108.92h-1.7M27.45 101.73h2.5M393.5 101.73h-2.5M27.45 94.54h1.7M393.5 94.54h-1.7M27.45 87.36h1.7M393.5 87.36h-1.7M27.45 80.17h1.7M393.5 80.17h-1.7M27.45 72.99h1.7M393.5 72.99h-1.7M27.45 65.80h2.5M393.5 65.80h-2.5M27.45 58.61h1.7M393.5 58.61h-1.7M27.45 51.43h1.7M393.5 51.43h-1.7M27.45 44.24h1.7M393.5 44.24h-1.7M27.45 37.06h1.7M393.5 37.06h-1.7M27.45 29.87h2.5M393.5 29.87h-2.5M27.45 22.68h1.7M393.5 22.68h-1.7"/>
</g>
<g stroke-width="1.35">
<line x1="62.3" x2="86.55" y1="27.60" y2="27.60" stroke="#000000"/>
<line x1="62.3" x2="86.55" y1="49.30" y2="49.30" stroke="#ff0000"/>
<line x1="62.3" x2="86.55" y1="71.00" y2="71.00" stroke="#00ff00"/>
<line x1="62.3" x2="86.55" y1="92.70" y2="92.70" stroke="#0000ff"/>
<line x1="62.3" x2="86.55" y1="114.40" y2="114.40" stroke="#ff8080"/>
<line x1="62.3" x2="86.55" y1="136.10" y2="136.10" stroke="#996633"/>
</g>
<g font-family="Liberation Sans, sans-serif" font-size="11px" fill="#000">
<text x="92.1" y="32" letter-spacing="0.08">Schw BH</text>
<text x="92.1" y="53" letter-spacing="0.08">Q <tspan dy="1">=</tspan><tspan dy="-1"> 0.2</tspan></text>
<text x="92.1" y="75" letter-spacing="0.08">Q <tspan dy="1">=</tspan><tspan dy="-1"> 0.4</tspan></text>
<text x="92.1" y="97" letter-spacing="0.08">Q <tspan dy="1">=</tspan><tspan dy="-1"> 0.6</tspan></text>
<text x="92.1" y="118" letter-spacing="0.08">Q <tspan dy="1">=</tspan><tspan dy="-1"> 0.8</tspan></text>
<text x="92.1" y="140" letter-spacing="0.08">Q <tspan dy="1">=</tspan></text>
<path d="M117.85 132.15V140H116.55V134.00Q115.6 134.85 114.3 135.35V134.20Q116.2 133.45 116.95 132.15Z"/>
<text x="119.9" y="140" letter-spacing="0.3">.0</text>
</g>
<g font-family="Liberation Sans, sans-serif" font-size="10.3px" font-weight="bold" fill="#000">
<text x="57.60" y="258" letter-spacing="0.38" text-anchor="middle">0.956</text>
<text x="104.52" y="258" letter-spacing="0.38" text-anchor="middle">0.958</text>
<text x="151.44" y="258" letter-spacing="0.38" text-anchor="middle">0.960</text>
<text x="198.36" y="258" letter-spacing="0.38" text-anchor="middle">0.962</text>
<text x="245.28" y="258" letter-spacing="0.38" text-anchor="middle">0.964</text>
<text x="292.20" y="258" letter-spacing="0.38" text-anchor="middle">0.966</text>
<text x="339.12" y="258" letter-spacing="0.38" text-anchor="middle">0.968</text>
<text x="386.04" y="258" letter-spacing="0.38" text-anchor="middle">0.970</text>
<text x="24.25" y="250.00" text-anchor="end">0</text>
<path d="M22.6 206.15V214H20.9V208.70Q20.0 209.50 18.95 209.85V208.40Q20.7 207.70 21.3 206.15Z"/>
<text x="24.25" y="178.00" text-anchor="end">2</text>
<text x="24.25" y="142.00" text-anchor="end">3</text>
<text x="24.25" y="106.00" text-anchor="end">4</text>
<text x="24.25" y="70.00" text-anchor="end">5</text>
<text x="24.25" y="34.00" text-anchor="end">6</text>
</g>
<g font-family="Liberation Sans, sans-serif" font-weight="bold" font-style="italic" fill="#000">
<text x="210.1" y="275.4" font-size="11px" text-anchor="middle">E</text>
<text transform="translate(9.7,132.5) rotate(-90) scale(1.13,1)" font-size="11px" text-anchor="middle">q</text>
<path d="M204.3 5.7H210.1L209.8 7.15H204.0ZM203.85 8.1H209.65L209.35 9.55H203.55Z"/>
<text x="213.5" y="10.55" font-size="11px" letter-spacing="0.3">0.5</text>
<path d="M193.3 5.0H195.2L196.9 8.8L195.6 10.2ZM198.0 5.0H199.6L194.4 12.8H192.3Z"/>
</g>
</svg>
</body></html>
